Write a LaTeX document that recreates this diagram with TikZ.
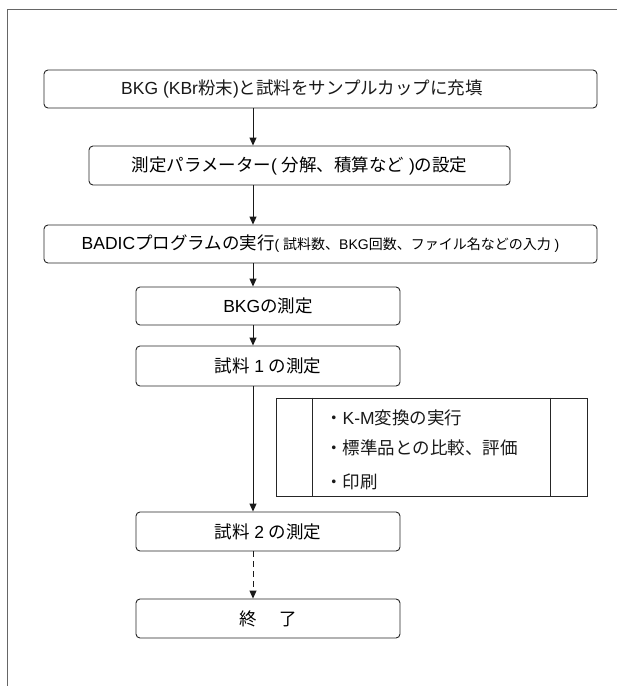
\documentclass[tikz,border=0pt]{standalone}
\usepackage{fontspec}
\setmainfont{Noto Sans CJK JP}
\newfontfamily\latfont{Liberation Sans}
\newcommand{\lt}[1]{{\latfont #1}}
\usetikzlibrary{arrows.meta}
\begin{document}
\begin{tikzpicture}[x=1pt,y=-1pt]
\tikzset{
  box/.style={draw=black!85, line width=0.9pt, rounded corners=4pt, fill=white, inner sep=0pt, font=\fontsize{17.5}{21}\selectfont},
  txt/.style={inner sep=0pt, font=\fontsize{17.5}{21}\selectfont, text=black!90},
  arr/.style={-{Triangle[length=8pt,width=7pt]}, line width=0.9pt, draw=black!90},
  sidebox/.style={draw=black!85, line width=0.9pt, inner sep=0pt, minimum width=311pt, minimum height=98pt},
  frame/.style={draw=black!60, line width=1.2pt}
}
\useasboundingbox (0,0) rectangle (617,686);
\draw[frame] (617,9.5) -- (7.5,9.5) -- (7.5,686);

\coordinate (ax) at (253,0);

\node[box, minimum width=553pt, minimum height=38pt] (b1) at (320.5,89) {};
\node[txt] (t1) at (302,89) {\lt{BKG (KBr}粉末\lt{)}と試料をサンプルカップに充填};

\node[box, minimum width=421pt, minimum height=39pt] (b2) at (299.5,165.5) {測定パラメーター\lt{( }分解、積算など\lt{ )}の設定};

\node[box, minimum width=553pt, minimum height=38pt] (b3) at (320.5,244) {\lt{BADIC}プログラムの実行{\fontsize{14}{17}\selectfont\lt{( }試料数、\lt{BKG}回数、ファイル名などの入力\lt{ )}}};

\node[box, minimum width=264pt, minimum height=38pt] (b4) at (268,306) {\lt{BKG}の測定};
\node[box, minimum width=264pt, minimum height=40pt] (b5) at (268,366) {試料\lt{ 1 }の測定};
\node[box, minimum width=264pt, minimum height=39pt] (b6) at (268,531.5) {試料\lt{ 2 }の測定};
\node[box, minimum width=264pt, minimum height=39pt] (b7) at (268,618.5) {終\hspace{1.3em}了};

\node[sidebox] (sb) at (431.5,447) {};
\draw[draw=black!85, line width=0.9pt] ([xshift=37pt]sb.north west) -- ([xshift=37pt]sb.south west);
\draw[draw=black!85, line width=0.9pt] ([xshift=-37pt]sb.north east) -- ([xshift=-37pt]sb.south east);
\node[txt, anchor=west] (s1) at (325,418) {・\lt{K-M}変換の実行};
\node[txt, anchor=west] (s2) at (325,448) {・標準品との比較、評価};
\node[txt, anchor=west] (s3) at (325,482) {・印刷};

\draw[arr] (b1.south -| ax) -- (b2.north -| ax);
\draw[arr] (b2.south -| ax) -- (b3.north -| ax);
\draw[arr] (b3.south -| ax) -- (b4.north -| ax);
\draw[arr] (b4.south -| ax) -- (b5.north -| ax);
\draw[arr] (b5.south -| ax) -- (b6.north -| ax);
\draw[arr, dash pattern=on 6pt off 4pt] (b6.south -| ax) -- (b7.north -| ax);
\end{tikzpicture}
\end{document}
